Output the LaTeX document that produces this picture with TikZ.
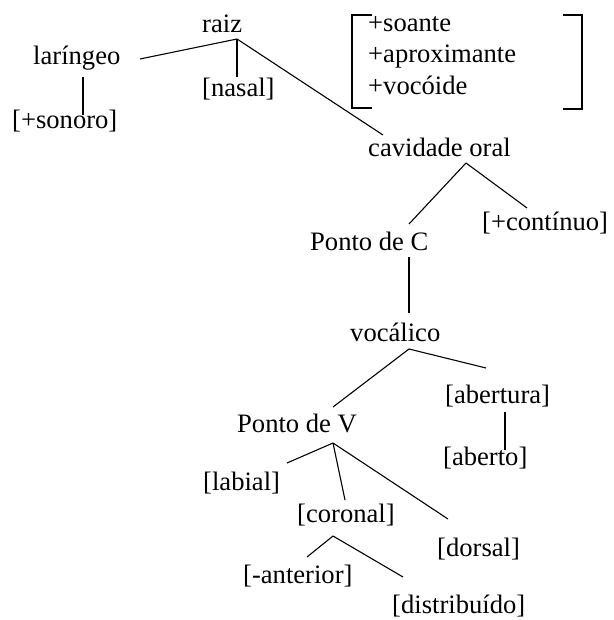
\documentclass[tikz,border=0pt]{standalone}
\usepackage{fontspec}
\setmainfont{Liberation Serif}
\begin{document}
\begin{tikzpicture}[x=1pt,y=-1pt,
  lbl/.style={anchor=base west,inner sep=0pt,font=\fontsize{26.6}{31}\selectfont},
  edge/.style={line width=1.1pt}]
\useasboundingbox (0,0) rectangle (613,620);
% text nodes
\node[lbl] (raiz) at (202,33) {raiz};
\node[lbl] (lar) at (33,65) {laríngeo};
\node[lbl] (son) at (12,129) {[+sonoro]};
\node[lbl] (nas) at (202,97) {[nasal]};
\node[lbl] (f1) at (368,32) {+soante};
\node[lbl] (f2) at (368,63) {+aproximante};
\node[lbl] (f3) at (368,95) {+vocóide};
\node[lbl] (cav) at (368,157) {cavidade oral};
\node[lbl] (cont) at (482,230) {[+contínuo]};
\node[lbl] (pc) at (310,250) {Ponto de C};
\node[lbl] (voc) at (350,341) {vocálico};
\node[lbl] (abt) at (445,403) {[abertura]};
\node[lbl] (pv) at (237,432) {Ponto de V};
\node[lbl] (abo) at (443,465) {[aberto]};
\node[lbl] (lab) at (203,490) {[labial]};
\node[lbl] (cor) at (297,522) {[coronal]};
\node[lbl] (dor) at (437,556) {[dorsal]};
\node[lbl] (ant) at (243,583) {[-anterior]};
\node[lbl] (dis) at (392,613) {[distribuído]};
% connector points
\coordinate (raizA) at (237,39);
\coordinate (larE) at (140,59);
\coordinate (nasT) at (237,77);
\coordinate (cavT) at (383,135);
\coordinate (larB) at (83,77);
\coordinate (sonT) at (83,115);
\coordinate (cavA) at (466,163);
\coordinate (pcT) at (409,224);
\coordinate (contT) at (527,208);
\coordinate (pcB) at (409,257);
\coordinate (vocT) at (409,313);
\coordinate (vocA) at (409,349);
\coordinate (pvT) at (333,407);
\coordinate (abtT) at (486,368);
\coordinate (abtB) at (505,412);
\coordinate (aboT) at (505,450);
\coordinate (pvA) at (333,443);
\coordinate (labT) at (287,463);
\coordinate (corT) at (345,500);
\coordinate (dorT) at (448,519);
\coordinate (corA) at (333,536);
\coordinate (antT) at (307,557);
\coordinate (disT) at (403,577);
% connectors
\draw[edge] (raizA) -- (larE);
\draw[edge] (raizA) -- (nasT);
\draw[edge] (raizA) -- (cavT);
\draw[edge] (larB) -- (sonT);
\draw[edge] (cavA) -- (pcT);
\draw[edge] (cavA) -- (contT);
\draw[edge] (pcB) -- (vocT);
\draw[edge] (vocA) -- (pvT);
\draw[edge] (vocA) -- (abtT);
\draw[edge] (abtB) -- (aboT);
\draw[edge] (pvA) -- (labT);
\draw[edge] (pvA) -- (corT);
\draw[edge] (pvA) -- (dorT);
\draw[edge] (corA) -- (antT);
\draw[edge] (corA) -- (disT);
% brackets
\draw[edge] (372,15) -- (352,15) -- (352,108) -- (372,108);
\draw[edge] (563,15) -- (582,15) -- (582,109) -- (563,109);
\end{tikzpicture}
\end{document}
